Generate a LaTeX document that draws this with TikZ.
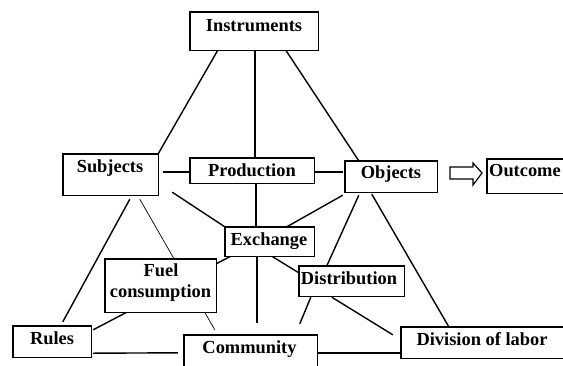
\documentclass[tikz,border=0pt]{standalone}
\usepackage{fontspec}
\setmainfont{Liberation Serif}
\usetikzlibrary{calc}
\begin{document}
\begin{tikzpicture}[x=1pt,y=-1pt,
  box/.style={draw, line width=1.4pt, fill=white, inner sep=0pt, rectangle},
  lbl/.style={anchor=base, inner sep=0pt, font=\fontsize{18.4}{20.6}\selectfont\bfseries},
  conn/.style={line width=1.4pt},
  thinconn/.style={line width=0.7pt}]
\useasboundingbox (0,0) rectangle (563,365);
\clip (0,0) rectangle (563,365);
\fill[white] (0,0) rectangle (563,365);
% boxes (positions only, drawn after connectors)
\path
  node[minimum width=128pt, minimum height=38pt, inner sep=0pt] (instr) at (254,31) {}
  node[minimum width=95pt, minimum height=41pt, inner sep=0pt] (subj) at (110.5,174.5) {}
  node[minimum width=124pt, minimum height=25pt, inner sep=0pt] (prod) at (252,170.5) {}
  node[minimum width=92pt, minimum height=31pt, inner sep=0pt] (obj) at (391,176.5) {}
  node[minimum width=113pt, minimum height=34pt, inner sep=0pt] (outc) at (543.5,176) {}
  node[minimum width=89pt, minimum height=29pt, inner sep=0pt] (exch) at (269.5,241.5) {}
  node[minimum width=111pt, minimum height=53pt, inner sep=0pt] (fuel) at (160.5,285.5) {}
  node[minimum width=105pt, minimum height=30pt, inner sep=0pt] (dist) at (351.5,281) {}
  node[minimum width=78pt, minimum height=31pt, inner sep=0pt] (rules) at (52,341.5) {}
  node[minimum width=133pt, minimum height=65pt, inner sep=0pt] (comm) at (250.5,367.5) {}
  node[minimum width=199pt, minimum height=31pt, inner sep=0pt] (div) at (500.5,342.5) {};
% connectors
\draw[conn] ($(instr.south west)+(28,0)$) -- (subj.north east);
\draw[conn] ($(instr.south west)+(65,0)$) -- ($(prod.north west)+(65,0)$);
\draw[conn] ($(instr.south west)+(96,0)$) -- ($(obj.north west)+(14,0)$);
\draw[conn] ($(subj.north east)+(5,18)$) -- ($(prod.north west)+(-1,14)$);
\draw[conn] ($(prod.north east)+(0,14)$) -- ($(obj.north west)+(-2,11)$);
\draw[conn] ($(subj.south east)+(14,-3)$) -- (exch.north west);
\draw[conn] ($(prod.south west)+(66,0)$) -- ($(exch.north west)+(31,0)$);
\draw[conn] ($(obj.south west)+(-2,3)$) -- ($(exch.north west)+(62,0)$);
\draw[conn] ($(obj.south west)+(14,3)$) -- ($(dist.north west)+(28,0)$);
\draw[conn] ($(obj.south west)+(27,2)$) -- ($(div.north west)+(48,0)$);
\draw[conn] ($(exch.south west)+(6,0)$) -- ($(fuel.north east)+(0,5)$);
\draw[conn] ($(exch.south west)+(47,0)$) -- ($(dist.north west)+(0,7)$);
\draw[conn] ($(exch.south west)+(32,0)$) -- ($(comm.north west)+(73,-12)$);
\draw[thinconn] ($(subj.south west)+(77,4)$) -- ($(comm.north west)+(31,-5)$);
\draw[conn] ($(dist.south west)+(12,1)$) -- ($(comm.north west)+(116,-11)$);
\draw[conn] ($(dist.south west)+(33,1)$) -- ($(div.north west)+(-8,8)$);
\draw[conn] ($(fuel.south west)+(22,0)$) -- ($(rules.north east)+(2,4)$);
\draw[conn] ($(subj.south west)+(67,4)$) -- ($(rules.north west)+(50,-4)$);
\draw[conn] ($(rules.south east)+(2,-4)$) -- ($(comm.north west)+(-6,18)$);
\draw[conn] ($(comm.north east)+(0,18)$) -- ($(div.north west)+(0,26)$);
% boxes drawn
\foreach \n in {instr,subj,prod,obj,outc,exch,fuel,dist,rules,comm,div}
  \draw[box] (\n.north west) rectangle (\n.south east);
% block arrow
\draw[line width=1.2pt, line join=miter] (450,167) -- (473,167) -- (473,163) -- (482,173) -- (473,185) -- (473,179) -- (450,179) -- cycle;
% labels
\node[lbl] (tinstr) at (254,31) {Instruments};
\node[lbl] (tsubj) at (110,172) {Subjects};
\node[lbl] (tprod) at (252,176.5) {Production};
\node[lbl] (tobj) at (391,178) {Objects};
\node[lbl, anchor=base west] (toutc) at (489,176.7) {Outcome};
\node[lbl] (texch) at (269,245) {Exchange};
\node[lbl] (tfuela) at (161,276.7) {Fuel};
\node[lbl] (tfuelb) at (160.5,297.3) {consumption};
\node[lbl] (tdist) at (349,284) {Distribution};
\node[lbl] (trules) at (52,344) {Rules};
\node[lbl] (tcomm) at (249.5,353) {Community};
\node[lbl] (tdiv) at (482,345.5) {Division of labor};
\end{tikzpicture}
\end{document}
